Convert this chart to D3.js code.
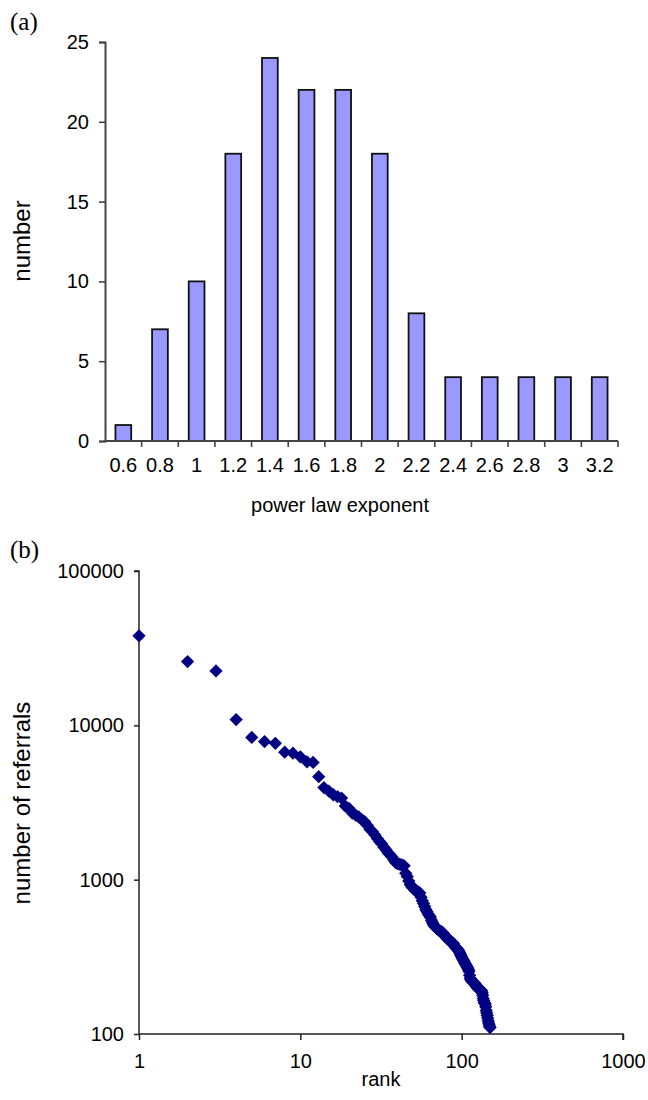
<!DOCTYPE html>
<html>
  <head>
    <meta charset="utf-8">
    <title>Power law exponents and referrals</title>
    <script src="https://d3js.org/d3.v7.min.js"></script>
    <style>
      body { margin: 0; background: #fff; }
      text { font-family: "Liberation Sans", Arial, sans-serif; fill: #000; }
      .panel { font-family: "Liberation Serif", "Times New Roman", serif; }
    </style>
  </head>
  <body>
    <svg id="chart" width="648" height="1100"></svg>
    <script>
      // (a) histogram of power law exponents
      var exponents = ["0.6", "0.8", "1", "1.2", "1.4", "1.6", "1.8", "2", "2.2", "2.4", "2.6", "2.8", "3", "3.2"];
      var counts = [1, 7, 10, 18, 24, 22, 22, 18, 8, 4, 4, 4, 4, 4];
      var countTicks = [0, 5, 10, 15, 20, 25];

      // (b) referrals by rank
      var referrals = [
        38000, 25900, 22500, 10900, 8350, 7850, 7650, 6700, 6600, 6250,
        5800, 5750, 4650, 3950, 3750, 3550, 3450, 3380, 3000, 2900,
        2700, 2620, 2550, 2450, 2380, 2250, 2120, 2050, 1950, 1850,
        1770, 1700, 1620, 1560, 1490, 1450, 1400, 1340, 1290, 1270,
        1260, 1250, 1240, 1230, 1100, 1050, 980, 930, 900, 880,
        860, 850, 840, 830, 820, 770, 730, 700, 670, 640,
        620, 600, 585, 570, 545, 525, 510, 500, 490, 485,
        478, 472, 466, 462, 458, 454, 450, 440, 432, 425,
        418, 412, 408, 404, 400, 395, 392, 390, 385, 375,
        368, 362, 358, 355, 352, 345, 338, 330, 322, 315,
        308, 303, 298, 292, 287, 282, 277, 272, 268, 262,
        255, 240, 230, 225, 222, 220, 218, 216, 215, 214,
        212, 208, 205, 202, 200, 198, 197, 196, 195, 194,
        193, 192, 190, 185, 178, 170, 165, 160, 158, 156,
        150, 142, 137, 132, 127, 122, 118, 115, 112, 110
      ];
      var rankTicks = [1, 10, 100, 1000];
      var referralTicks = [100, 1000, 10000, 100000];

      var svg = d3.select("#chart");

      // ---------- panel (a) ----------
      var x1 = d3.scaleBand().domain(exponents).range([105, 618]);
      var y1 = d3.scaleLinear().domain([0, 25]).range([441, 42]);
      var barW = x1.step() * 0.43;

      svg.append("g")
        .selectAll("rect")
        .data(counts)
        .enter().append("rect")
        .attr("x", function(d, i) { return x1(exponents[i]) + (x1.step() - barW) / 2; })
        .attr("y", function(d) { return y1(d); })
        .attr("width", barW)
        .attr("height", function(d) { return y1(0) - y1(d); })
        .attr("fill", "#9999ff")
        .attr("stroke", "#111")
        .attr("stroke-width", 1.8);

      var ax1 = svg.append("g")
        .attr("transform", "translate(105,0)")
        .call(d3.axisLeft(y1).tickValues(countTicks).tickSize(6).tickPadding(10));

      // category ticks sit between the bars
      var bx1 = svg.append("g")
        .attr("transform", "translate(0,441)")
        .call(d3.axisBottom(x1).tickSize(0).tickPadding(17));
      bx1.selectAll(".sep")
        .data(exponents)
        .enter().append("line")
        .attr("class", "sep")
        .attr("x1", function(d) { return x1(d) + x1.step(); })
        .attr("x2", function(d) { return x1(d) + x1.step(); })
        .attr("y1", 0)
        .attr("y2", 6);

      [ax1, bx1].forEach(function(g) {
        g.select(".domain").attr("stroke", "#444").attr("stroke-width", 2);
        g.selectAll("line").attr("stroke", "#444").attr("stroke-width", 1.6);
        g.selectAll("text").style("font-size", "20px").attr("fill", "#000")
          .style("font-family", "'Liberation Sans', Arial, sans-serif");
      });
      bx1.select(".domain").attr("d", "M105,0H618");

      svg.append("text")
        .attr("x", 340).attr("y", 512)
        .attr("text-anchor", "middle")
        .style("font-size", "20px")
        .text("power law exponent");
      svg.append("text")
        .attr("transform", "translate(30,241) rotate(-90)")
        .attr("text-anchor", "middle")
        .style("font-size", "24px")
        .text("number");
      svg.append("text")
        .attr("class", "panel")
        .attr("x", 10).attr("y", 30)
        .style("font-size", "25px")
        .text("(a)");

      // ---------- panel (b) ----------
      var x2 = d3.scaleLog().domain([1, 1000]).range([139, 623]);
      var y2 = d3.scaleLog().domain([100, 100000]).range([1034, 571]);

      var ax2 = svg.append("g")
        .attr("transform", "translate(139,0)")
        .call(d3.axisLeft(y2).tickValues(referralTicks).tickFormat(d3.format("d")).tickSize(5).tickPadding(10));
      var bx2 = svg.append("g")
        .attr("transform", "translate(0,1034)")
        .call(d3.axisBottom(x2).tickValues(rankTicks).tickFormat(d3.format("d")).tickSize(6).tickPadding(14));

      [ax2, bx2].forEach(function(g) {
        g.select(".domain").attr("stroke", "#222").attr("stroke-width", 1.5);
        g.selectAll("line").attr("stroke", "#222").attr("stroke-width", 1.5);
        g.selectAll("text").style("font-size", "20px").attr("fill", "#000")
          .style("font-family", "'Liberation Sans', Arial, sans-serif");
      });
      ax2.select(".domain").attr("d", "M0,1034V571H-5");
      bx2.select(".domain").attr("d", "M139,0H623V6");

      var diamond = d3.symbol().type(d3.symbolSquare).size(88);
      svg.append("g")
        .selectAll("path")
        .data(referrals)
        .enter().append("path")
        .attr("d", diamond)
        .attr("transform", function(d, i) {
          return "translate(" + x2(i + 1) + "," + y2(d) + ") rotate(45)";
        })
        .attr("fill", "#000080");

      svg.append("text")
        .attr("x", 381).attr("y", 1086)
        .attr("text-anchor", "middle")
        .style("font-size", "20px")
        .text("rank");
      svg.append("text")
        .attr("transform", "translate(30,803) rotate(-90)")
        .attr("text-anchor", "middle")
        .style("font-size", "24px")
        .text("number of referrals");
      svg.append("text")
        .attr("class", "panel")
        .attr("x", 10).attr("y", 558)
        .style("font-size", "25px")
        .text("(b)");
    </script>
  </body>
</html>
